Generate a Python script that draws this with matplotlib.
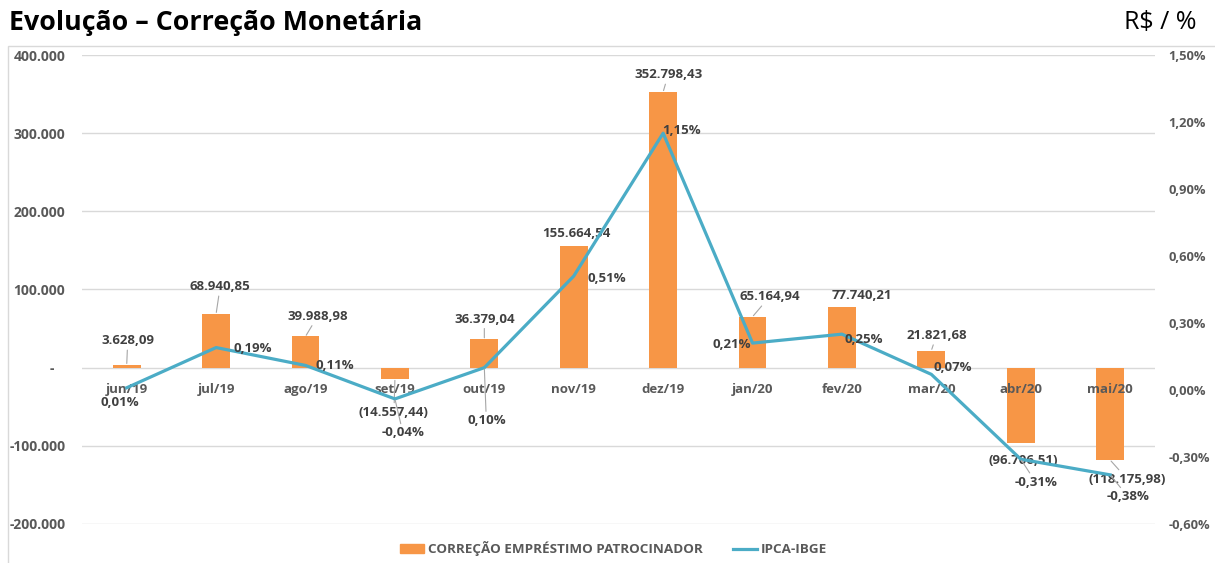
import numpy as np
import matplotlib.pyplot as plt
from matplotlib.patches import Patch, Rectangle
from matplotlib.lines import Line2D

plt.rcParams['font.family'] = ['Open Sans', 'DejaVu Sans']

meses = ['jun/19', 'jul/19', 'ago/19', 'set/19', 'out/19', 'nov/19',
         'dez/19', 'jan/20', 'fev/20', 'mar/20', 'abr/20', 'mai/20']
correcao = [3628.09, 68940.85, 39988.98, -14557.44, 36379.04, 155664.54,
            352798.43, 65164.94, 77740.21, 21821.68, -96706.51, -118175.98]
ipca = [0.01, 0.19, 0.11, -0.04, 0.10, 0.51, 1.15, 0.21, 0.25, 0.07, -0.31, -0.38]

left_ticks = [-200000, -100000, 0, 100000, 200000, 300000, 400000]
left_labels = ['-200.000', '-100.000', '-   ', '100.000', '200.000', '300.000', '400.000']
right_ticks = [-0.6, -0.3, 0, 0.3, 0.6, 0.9, 1.2, 1.5]

# label offsets in pixels (dx, dy) and whether a leader line is drawn
bar_off = [(1, 24, True), (4, 27, True), (12, 20, True), (-1, -33, True), (0, 20, True),
           (3, 12, False), (5, 17, True), (17, 20, True), (20, 11, False), (5, 15, True),
           (2, -17, False), (17, -19, True)]
line_off = [(-7, -15, False), (37, -1, False), (29, 0, False), (8, -34, True), (2, -53, True),
            (33, -2, False), (18, 3, False), (-21, -1, False), (22, -5, False), (21, 7, False),
            (15, -23, True), (18, -22, True)]

ORANGE = '#F79646'
BLUE = '#4BACC6'
GRAY = '#595959'
DARK = '#404040'


def fmt_br(v):
    s = f'{abs(v):,.2f}'.replace(',', 'X').replace('.', ',').replace('X', '.')
    return f'({s})' if v < 0 else s


fig = plt.figure(figsize=(12.15, 5.63), dpi=100)
ax = fig.add_axes([0.0675, 0.0693, 0.883, 0.833])
ax2 = ax.twinx()

x = np.arange(len(meses))
for t in left_ticks:
    ax.axhline(t, color='#d9d9d9', lw=1, zorder=0)
ax.bar(x, correcao, width=0.31, color=ORANGE, zorder=1)
ax.set_xlim(-0.5, 11.5)
ax.set_ylim(-200000, 400000)
ax.set_yticks(left_ticks)
ax.set_yticklabels(left_labels)
for s in ax.spines.values():
    s.set_visible(False)
ax.spines['bottom'].set_position(('data', 0))
ax.set_xticks(x)
ax.set_xticklabels(meses)
ax.tick_params(axis='x', length=0, pad=11, labelsize=9.5, labelcolor=GRAY)
ax.tick_params(axis='y', length=0, pad=12, labelsize=10, labelcolor=GRAY)
for t in ax.get_xticklabels() + ax.get_yticklabels():
    t.set_fontweight('bold')

ax2.plot(x, ipca, color=BLUE, lw=2.3, zorder=3)
ax2.set_ylim(-0.6, 1.5)
ax2.set_yticks(right_ticks)
ax2.set_yticklabels([f'{v:.2f}%'.replace('.', ',') for v in right_ticks])
ax2.tick_params(axis='y', length=0, pad=10, labelsize=9.3, labelcolor=GRAY)
for t in ax2.get_yticklabels():
    t.set_fontweight('bold')
for s in ax2.spines.values():
    s.set_visible(False)

lead = dict(arrowstyle='-', color='#a6a6a6', lw=0.8, shrinkA=0, shrinkB=1)
for i, v in enumerate(correcao):
    dx, dy, ld = bar_off[i]
    ax.annotate(fmt_br(v), (x[i], v), xytext=(dx, dy), textcoords='offset pixels',
                ha='center', va='center', fontsize=9.5, fontweight='bold', color=DARK,
                arrowprops=lead if ld else None, zorder=5)
for i, v in enumerate(ipca):
    dx, dy, ld = line_off[i]
    ax2.annotate(f'{v:.2f}%'.replace('.', ','), (x[i], v), xytext=(dx, dy),
                 textcoords='offset pixels', ha='center', va='center', fontsize=9.5,
                 fontweight='bold', color=DARK, arrowprops=lead if ld else None, zorder=5)

fig.text(0.007, 0.96, 'Evolução – Correção Monetária', fontsize=19.3, fontweight='bold',
         color='black', ha='left', va='center')
fig.text(0.985, 0.96, 'R$ / %', fontsize=18, color='black', ha='right', va='center')

fig.add_artist(Rectangle((0.0066, -0.01), 1.0, 0.928, transform=fig.transFigure,
                         fill=False, edgecolor='#d9d9d9', lw=1))

handles = [Patch(color=ORANGE), Line2D([0], [0], color=BLUE, lw=2.3)]
leg = fig.legend(handles, ['CORREÇÃO EMPRÉSTIMO PATROCINADOR', 'IPCA-IBGE'],
                 loc='center', bbox_to_anchor=(0.505, 0.025), ncol=2, frameon=False,
                 fontsize=9.7, handlelength=1.8, handletextpad=0.3, columnspacing=2.2)
for t in leg.get_texts():
    t.set_color(GRAY)
    t.set_fontweight('bold')

fig.savefig('out.png', dpi=100)
